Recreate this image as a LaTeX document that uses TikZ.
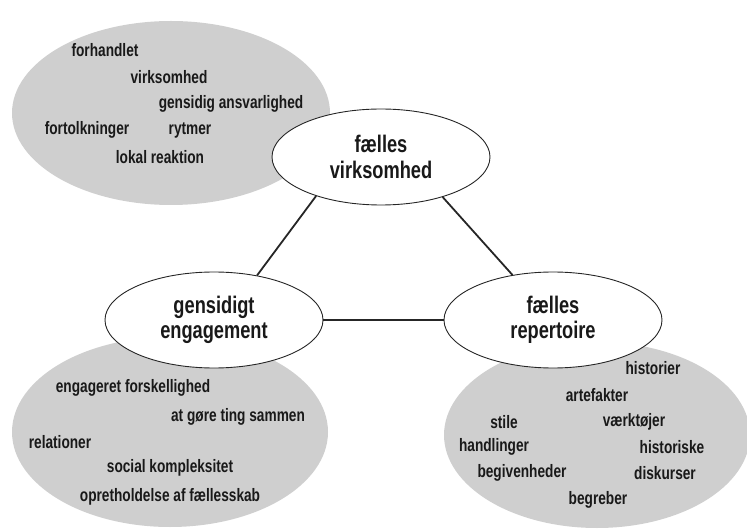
\documentclass[tikz,border=0pt]{standalone}
\usepackage{fontspec}
\setmainfont{Liberation Sans}[FakeStretch=0.76]
\usetikzlibrary{shapes.geometric}
\begin{document}
\begin{tikzpicture}[x=1pt,y=-1pt,
  blob/.style={ellipse, fill=black!19, draw=none, inner sep=0pt},
  mainnode/.style={ellipse, draw=black!85, line width=0.9pt, fill=white,
    minimum width=218pt, minimum height=96pt, inner sep=0pt, align=center,
    font=\fontsize{24}{25.5}\selectfont\bfseries, text=black!90},
  lbl/.style={inner sep=0pt, font=\fontsize{18}{20}\selectfont\bfseries, text=black!90},
  link/.style={line width=1.8pt, draw=black!85}]
\useasboundingbox (0,0) rectangle (747,529);
% background clouds
\node[blob, minimum width=318pt, minimum height=184pt] (cloudA) at (171,113) {};
\node[blob, minimum width=316pt, minimum height=190pt] (cloudB) at (170,432) {};
\node[blob, minimum width=306pt, minimum height=186pt] (cloudC) at (597,435) {};
% main ellipses
\node[mainnode] (v) at (381,157) {fælles\\virksomhed};
\node[mainnode] (g) at (214,320) {gensidigt\\engagement};
\node[mainnode] (r) at (553,320) {fælles\\repertoire};
% connectors
\draw[link] (v.211) -- (g.46);
\draw[link] (v.327) -- (r.132);
\draw[link] (g.0) -- (r.180);
% top-left labels
\node[lbl] (a1) at (105,50) {forhandlet};
\node[lbl] (a2) at (169,77) {virksomhed};
\node[lbl] (a3) at (231,104) {gensidig ansvarlighed};
\node[lbl] (a4) at (87,130) {fortolkninger};
\node[lbl] (a5) at (190,130) {rytmer};
\node[lbl] (a6) at (160,157) {lokal reaktion};
% bottom-left labels
\node[lbl] (b1) at (133,388) {engageret forskellighed};
\node[lbl] (b2) at (238,417) {at gøre ting sammen};
\node[lbl] (b3) at (60,442) {relationer};
\node[lbl] (b4) at (170,468) {social kompleksitet};
\node[lbl] (b5) at (170,497) {opretholdelse af fællesskab};
% bottom-right labels
\node[lbl] (c1) at (653,368) {historier};
\node[lbl] (c2) at (597,395) {artefakter};
\node[lbl] (c3) at (504,422) {stile};
\node[lbl] (c4) at (634,422) {værktøjer};
\node[lbl] (c5) at (494,447) {handlinger};
\node[lbl] (c6) at (672,447) {historiske};
\node[lbl] (c7) at (522,473) {begivenheder};
\node[lbl] (c8) at (665,473) {diskurser};
\node[lbl] (c9) at (598,500) {begreber};
\end{tikzpicture}
\end{document}
